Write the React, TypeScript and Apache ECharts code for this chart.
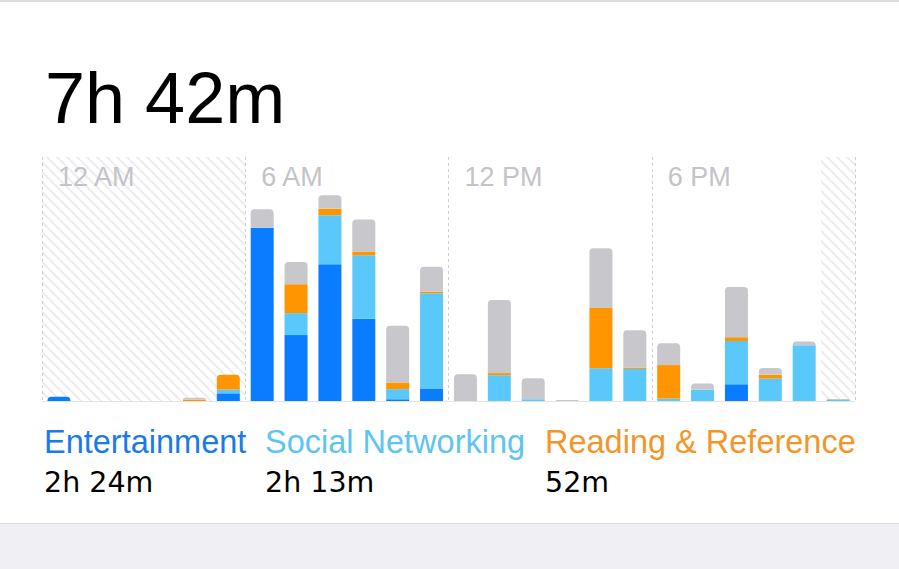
import { useEffect, useRef } from 'react';
import * as echarts from 'echarts';

// one category per hour of the day
const hours = [
  '0', '1', '2', '3', '4', '5', '6', '7', '8', '9', '10', '11',
  '12', '13', '14', '15', '16', '17', '18', '19', '20', '21', '22', '23',
];
const tickLabels = ['12 AM', '6 AM', '12 PM', '6 PM'];

// minutes per hour
const entertainment = [1.2, 0, 0, 0, 0, 2.2, 49.7, 18.9, 39.2, 23.6, 0.5, 3.6, 0, 0, 0, 0, 0, 0, 0, 0, 4.8, 0, 0, 0];
const social = [0, 0, 0, 0, 0, 1.1, 0, 6.3, 14.1, 18.2, 2.9, 27.3, 0, 7.4, 0.5, 0, 9.4, 9.2, 0.7, 3.2, 12.4, 6.4, 16, 0.3];
const reading = [0, 0, 0, 0, 0.4, 4.2, 0, 8.3, 1.9, 1.1, 1.9, 0.5, 0, 0.6, 0, 0, 17.3, 0.4, 9.6, 0, 1.1, 1.1, 0, 0];
const other = [0, 0, 0, 0, 0.5, 0, 5.3, 6.4, 3.8, 9.2, 16.3, 7.1, 7.7, 21, 6, 0.3, 17.1, 10.7, 6.3, 1.8, 14.4, 2, 1.1, 0.3];

// downtime ranges (hours) drawn hatched
const downtime = [[0, 6], [23, 24]];

const categoryNames = ['Entertainment', 'Social Networking', 'Reading & Reference'];
const categoryTotals = ['2h 24m', '2h 13m', '52m'];
const grandTotal = '7h 42m';

const barColors = ['#0a7cff', '#5ac8fa', '#ff9500', '#c7c7cc'];
const legendColors = ['#1b7be6', '#5ec4f0', '#f3962a'];
const legendX = [44, 265, 545];

const makeHatch = () => {
  const c = document.createElement('canvas');
  c.width = 10;
  c.height = 10;
  const ctx = c.getContext('2d')!;
  ctx.strokeStyle = '#ededef';
  ctx.lineWidth = 2.2;
  ctx.beginPath();
  for (const k of [-10, 0, 10]) {
    ctx.moveTo(k, 0);
    ctx.lineTo(k + 10, 10);
  }
  ctx.stroke();
  return c;
};

const App = () => {
  const divRef = useRef<HTMLDivElement | null>(null);

  useEffect(() => {
    document.body.style.margin = '0';
    if (!divRef.current) return;

    const stacks = [entertainment, social, reading, other];
    const topIndex = hours.map((_, i) => {
      let t = -1;
      stacks.forEach((s, k) => {
        if (s[i] > 0) t = k;
      });
      return t;
    });

    const names = [...categoryNames, 'Other'];
    const barSeries = stacks.map((values, k) => ({
      name: names[k],
      type: 'bar',
      stack: 'total',
      xAxisIndex: 0,
      barWidth: 23,
      color: barColors[k],
      data: values.map((v, i) => ({
        value: v,
        itemStyle: topIndex[i] === k ? { borderRadius: [4, 4, 0, 0] } : undefined,
      })),
    }));

    const legendTexts = categoryNames.flatMap((name, k) => [
      {
        type: 'text',
        x: legendX[k],
        y: 441.6,
        style: {
          text: name,
          fill: legendColors[k],
          font: '32.5px "Liberation Sans"',
          textAlign: 'left',
          textVerticalAlign: 'middle',
        },
      },
      {
        type: 'text',
        x: legendX[k],
        y: 482,
        style: {
          text: categoryTotals[k],
          fill: '#000000',
          font: '28.5px "DejaVu Sans"',
          textAlign: 'left',
          textVerticalAlign: 'middle',
        },
      },
    ]);

    const chart = echarts.init(divRef.current, null, { renderer: 'svg' });
    chart.setOption({
      animation: false,
      backgroundColor: '#ffffff',
      grid: { left: 42, right: 44, top: 157, bottom: 168 },
      xAxis: [
        {
          type: 'category',
          data: hours,
          position: 'bottom',
          axisLine: { show: true, lineStyle: { color: '#e4e4e8', width: 1 } },
          axisTick: { show: false },
          axisLabel: { show: false },
          splitLine: { show: false },
        },
        {
          type: 'value',
          min: 0,
          max: 24,
          interval: 6,
          position: 'top',
          z: 5,
          axisLine: { show: false },
          axisTick: { show: false },
          splitLine: { show: true, lineStyle: { color: '#cdcdd2', type: [3, 3], width: 1 } },
          axisLabel: {
            inside: true,
            align: 'left',
            verticalAlign: 'middle',
            margin: 20,
            padding: [0, 0, 0, 16],
            color: '#c3c3c8',
            fontSize: 27,
            fontFamily: 'Liberation Sans',
            formatter: (v: number) => tickLabels[v / 6] ?? '',
          },
        },
      ],
      yAxis: { type: 'value', min: 0, max: 70, show: false },
      series: [
        {
          type: 'scatter',
          xAxisIndex: 1,
          data: [],
          silent: true,
          markArea: {
            silent: true,
            itemStyle: { color: { image: makeHatch(), repeat: 'repeat' } },
            data: downtime.map(([a, b]) => [{ xAxis: a }, { xAxis: b }]),
          },
        },
        ...barSeries,
      ],
      graphic: [
        { type: 'rect', shape: { x: 0, y: 0, width: 899, height: 2 }, style: { fill: '#dedede' } },
        { type: 'rect', shape: { x: 0, y: 523, width: 899, height: 46 }, style: { fill: '#efeff4' } },
        { type: 'rect', shape: { x: 0, y: 523, width: 899, height: 1 }, style: { fill: '#dcdce0' } },
        {
          type: 'text',
          x: 45,
          y: 98,
          style: {
            text: grandTotal,
            fill: '#000000',
            font: '72px "Liberation Sans"',
            textAlign: 'left',
            textVerticalAlign: 'middle',
          },
        },
        ...legendTexts,
      ],
    });

    return () => chart.dispose();
  }, []);

  return <div ref={divRef} style={{ width: 899, height: 569 }} />;
};

export default App;
